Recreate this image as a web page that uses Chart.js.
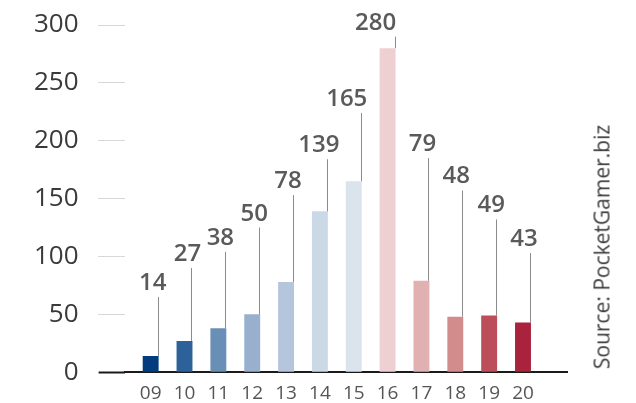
<!DOCTYPE html>
<html>
<head>
<meta charset="utf-8">
<script src="https://cdn.jsdelivr.net/npm/chart.js@4"></script>
<style>
  body { margin: 0; background: #fff; }
  #wrap { position: relative; width: 636px; height: 403px; }
  #source {
    position: absolute; left: 602px; top: 247px;
    transform: translate(-50%, -50%) rotate(-90deg);
    font-family: "Open Sans", sans-serif; font-size: 21px; line-height: 1;
    color: #3c3c3c; white-space: nowrap;
  }
</style>
</head>
<body>
<div id="wrap">
  <canvas id="myBarChart"></canvas>
  <div id="source">Source: PocketGamer.biz</div>
</div>
<script>
// Data
var seasons = ["09", "10", "11", "12", "13", "14", "15", "16", "17", "18", "19", "20"];
var counts = [14, 27, 38, 50, 78, 139, 165, 280, 79, 48, 49, 43];
var yTicks = [0, 50, 100, 150, 200, 250, 300];

var barColors = [
  "#033b7f", "#2c6299", "#6a8fb6", "#98b0cd", "#b5c6dc", "#cbd8e6",
  "#dbe3ec", "#efd0d2", "#e1b0b0", "#d38c8c", "#bb4e59", "#a8233b",
];

// where the leader line of each label starts (in value units) and label nudge
var leaderTop = [65, 90, 104, 125, 153, 184, 224, 290, 185, 157, 132, 103];
var labelShift = [2, 3, 2, 2, 2, -1, -7, -12, 1, 1, 2, 1];

document.addEventListener("DOMContentLoaded", function () {
  var points = seasons.map(function (s, i) {
    return { x: Number(s), y: counts[i] };
  });

  // leader lines + value labels above bars
  var valueLabels = {
    id: "valueLabels",
    afterDatasetsDraw: function (chart) {
      var ctx = chart.ctx;
      var yScale = chart.scales.y;
      var bars = chart.getDatasetMeta(0).data;
      ctx.save();
      bars.forEach(function (bar, i) {
        var lx = Math.round(bar.x + bar.width / 2) - 0.5;
        var top = yScale.getPixelForValue(leaderTop[i]);
        ctx.strokeStyle = "#8c8c8c";
        ctx.lineWidth = 1;
        ctx.beginPath();
        ctx.moveTo(lx, top);
        ctx.lineTo(lx, bar.y);
        ctx.stroke();
        ctx.fillStyle = "#5a5a5a";
        ctx.font = "600 24px 'Open Sans'";
        ctx.textAlign = "center";
        ctx.textBaseline = "alphabetic";
        ctx.fillText(String(counts[i]), bar.x + labelShift[i], top - 7);
      });
      ctx.restore();
    },
  };

  var ctx = document.getElementById("myBarChart").getContext("2d");
  var myBarChart = new Chart(ctx, {
    type: "bar",
    data: {
      datasets: [
        {
          data: points,
          backgroundColor: barColors,
          barPercentage: 0.47,
          categoryPercentage: 1,
        },
      ],
    },
    options: {
      responsive: true,
      maintainAspectRatio: false,
      animation: false,
      layout: { padding: { top: 25, right: 69, bottom: -12, left: 14 } },
      plugins: { legend: { display: false }, tooltip: { enabled: false } },
      scales: {
        x: {
          type: "linear",
          offset: false,
          min: 8.23,
          max: 21.3,
          afterBuildTicks: function (scale) {
            scale.ticks = seasons.map(function (s) { return { value: Number(s) }; });
          },
          ticks: {
            callback: function (v) { return String(v).padStart(2, "0"); },
            color: "#555",
            font: { family: "Open Sans", size: 19 },
            padding: 10,
            maxRotation: 0,
          },
          grid: { display: false, drawTicks: false },
          border: { display: true, color: "#1a1a1a", width: 2 },
        },
        y: {
          min: 0,
          max: 300,
          afterBuildTicks: function (scale) {
            scale.ticks = yTicks.map(function (v) { return { value: v }; });
          },
          afterFit: function (scale) {
            scale.paddingTop = 0;
            scale.paddingBottom = 0;
          },
          ticks: {
            color: "#3a3a3a",
            font: { family: "Open Sans", size: 26 },
            padding: 20,
          },
          grid: {
            drawOnChartArea: false,
            drawTicks: true,
            tickLength: 26,
            tickColor: function (c) { return c.tick && c.tick.value === 0 ? "#1a1a1a" : "#b0b0b0"; },
            tickWidth: function (c) { return c.tick && c.tick.value === 0 ? 2 : 1; },
            tickBorderDash: function (c) { return c.tick && c.tick.value === 0 ? [] : [1, 1]; },
          },
          border: { display: false },
        },
      },
    },
    plugins: [valueLabels],
  });
});
</script>
</body>
</html>
